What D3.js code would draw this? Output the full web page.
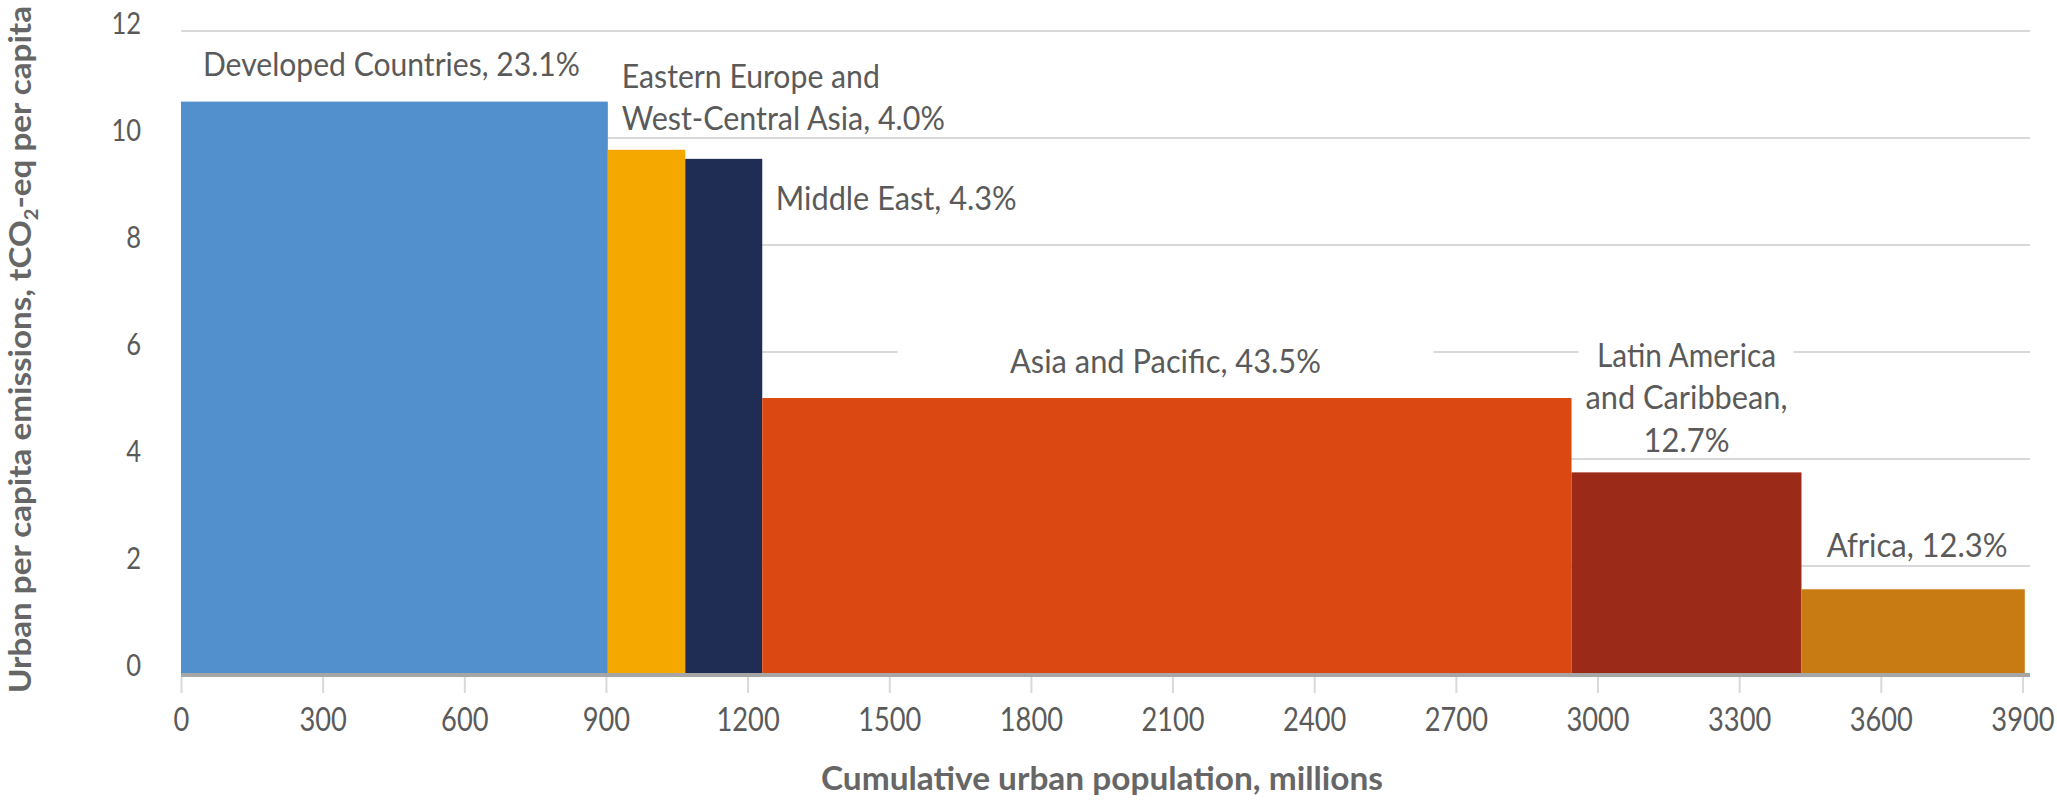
<!DOCTYPE html>
<html>
<head>
<meta charset="utf-8">
<script src="https://cdn.jsdelivr.net/npm/d3@7"></script>
<style>
  html, body { margin: 0; padding: 0; background: #ffffff; }
  svg { display: block; }
</style>
</head>
<body>
<svg id="chart" width="2057" height="801"></svg>
<script>
// ---------------- DATA ----------------
const categories = ["Developed Countries", "Eastern Europe and West-Central Asia", "Middle East",
                    "Asia and Pacific", "Latin America and Caribbean", "Africa"];
const population = [904, 164, 163, 1714, 487, 473];          // urban population, millions (bar widths)
const emissions  = [10.68, 9.78, 9.61, 5.14, 3.75, 1.565];  // tCO2-eq per capita (bar heights)
const labelLines = [
  ["Developed Countries, 23.1%"],
  ["Eastern Europe and", "West-Central Asia, 4.0%"],
  ["Middle East, 4.3%"],
  ["Asia and Pacific, 43.5%"],
  ["Latin America", "and Caribbean,", "12.7%"],
  ["Africa, 12.3%"]
];
const xTicks = [0, 300, 600, 900, 1200, 1500, 1800, 2100, 2400, 2700, 3000, 3300, 3600, 3900];
const yTicks = [0, 2, 4, 6, 8, 10, 12];
const xTitle = "Cumulative urban population, millions";

// ---------------- STYLE / LAYOUT ----------------
const colors = ["#5190cc", "#f5a800", "#1f2d55", "#dc4812", "#9c2a19", "#c87a13"];
const textColor = "#5a5a5a";
const gridColor = "#d9d9d9";
const FONT = "Lato, 'Open Sans', 'Noto Sans', sans-serif";

// label layout: anchor reference on the bar, pixel offsets from bar top, target line widths
const labelLayout = [
  { ref: "center", anchor: "middle", dx: -3,   dys: [-25.6],               widths: [377] },
  { ref: "left",   anchor: "start",  dx: 14,   dys: [-62.1, -19.8],        widths: [258, 323] },
  { ref: "right",  anchor: "start",  dx: 13.5, dys: [51.1],                widths: [241] },
  { ref: "center", anchor: "middle", dx: -1.4, dys: [-24.7],               widths: [311],
    box: { x0: -268, x1: 268, y0: -58, y1: -14 } },
  { ref: "center", anchor: "middle", dx: 0,    dys: [-105.7, -63.1, -20.7], widths: [179, 202, 86],
    box: { x0: -108, x1: 107, y0: -137, y1: -17 } },
  { ref: "center", anchor: "middle", dx: 4,    dys: [-32],                 widths: [181] }
];

const svg = d3.select("#chart");

const x = d3.scaleLinear().domain([0, 3916]).range([181, 2030]);
const y = d3.scaleLinear().domain([0, 12]).range([673, 31]);

// cumulative positions
const starts = [];
let acc = 0;
population.forEach(p => { starts.push(acc); acc += p; });
const bars = categories.map((c, i) => ({
  name: c, x0: starts[i], x1: starts[i] + population[i], v: emissions[i], color: colors[i],
  lines: labelLines[i], layout: labelLayout[i]
}));

// gridlines
svg.append("g").selectAll("line").data(yTicks.filter(d => d > 0)).join("line")
  .attr("x1", x.range()[0]).attr("x2", x.range()[1])
  .attr("y1", d => y(d)).attr("y2", d => y(d))
  .attr("stroke", gridColor).attr("stroke-width", 2);

// bars
svg.append("g").selectAll("rect").data(bars).join("rect")
  .attr("x", d => x(d.x0))
  .attr("width", d => x(d.x1) - x(d.x0))
  .attr("y", d => y(d.v))
  .attr("height", d => y(0) - y(d.v))
  .attr("fill", d => d.color);

// x axis line
svg.append("line")
  .attr("x1", x.range()[0]).attr("x2", x.range()[1])
  .attr("y1", y(0) + 2).attr("y2", y(0) + 2)
  .attr("stroke", "#a6a6a6").attr("stroke-width", 4);

// x axis ticks and labels (via d3.axisBottom)
const xAxis = d3.axisBottom(x).tickValues(xTicks).tickSize(16).tickPadding(20).tickFormat(d3.format("d"));
const gx = svg.append("g").attr("transform", `translate(0,${y(0) + 4})`).call(xAxis);
gx.select(".domain").remove();
gx.selectAll(".tick line").attr("stroke", gridColor).attr("stroke-width", 2);
gx.selectAll(".tick text")
  .attr("fill", textColor).attr("font-family", FONT).attr("font-size", 32)
  .attr("dy", null).attr("y", 53.5)
  .each(function(d) {
    const s = String(d);
    d3.select(this).attr("textLength", s.length * 15.8).attr("lengthAdjust", "spacingAndGlyphs");
  });

// y axis labels (via d3.axisLeft)
const yAxis = d3.axisLeft(y).tickValues(yTicks).tickSize(0).tickPadding(0).tickFormat(d3.format("d"));
const gy = svg.append("g").attr("transform", `translate(141,0)`).call(yAxis);
gy.select(".domain").remove();
gy.selectAll(".tick text")
  .attr("fill", textColor).attr("font-family", FONT).attr("font-size", 31)
  .attr("dy", null).attr("y", 2).attr("x", 0)
  .each(function(d) {
    const s = String(d);
    d3.select(this).attr("textLength", s.length * 14.8).attr("lengthAdjust", "spacingAndGlyphs");
  });

// data labels
const lg = svg.append("g");
bars.forEach(b => {
  const L = b.layout;
  let rx;
  if (L.ref === "center") rx = (x(b.x0) + x(b.x1)) / 2;
  else if (L.ref === "left") rx = x(b.x0);
  else rx = x(b.x1);
  rx += L.dx;
  const top = y(b.v);
  if (L.box) {
    lg.append("rect")
      .attr("x", rx + L.box.x0).attr("width", L.box.x1 - L.box.x0)
      .attr("y", top + L.box.y0).attr("height", L.box.y1 - L.box.y0)
      .attr("fill", "#ffffff");
  }
  b.lines.forEach((line, j) => {
    lg.append("text")
      .attr("x", rx).attr("y", top + L.dys[j])
      .attr("text-anchor", L.anchor)
      .attr("font-family", FONT).attr("font-size", 32)
      .attr("fill", textColor)
      .attr("textLength", L.widths[j]).attr("lengthAdjust", "spacingAndGlyphs")
      .text(line);
  });
});

// y axis title
const yt = svg.append("text")
  .attr("transform", `translate(30.5,349.5) rotate(-90)`)
  .attr("text-anchor", "middle")
  .attr("font-family", FONT).attr("font-weight", "bold").attr("font-size", 31)
  .attr("fill", "#666666")
  .attr("textLength", 687).attr("lengthAdjust", "spacingAndGlyphs");
yt.append("tspan").text("Urban per capita emissions, tCO");
yt.append("tspan").attr("font-size", 19).attr("dy", 7).text("2");
yt.append("tspan").attr("dy", -7).text("-eq per capita");

// x axis title
svg.append("text")
  .attr("x", 1102).attr("y", 790)
  .attr("text-anchor", "middle")
  .attr("font-family", FONT).attr("font-weight", "bold").attr("font-size", 32)
  .attr("fill", "#666666")
  .attr("textLength", 562).attr("lengthAdjust", "spacingAndGlyphs")
  .text(xTitle);
</script>
</body>
</html>
